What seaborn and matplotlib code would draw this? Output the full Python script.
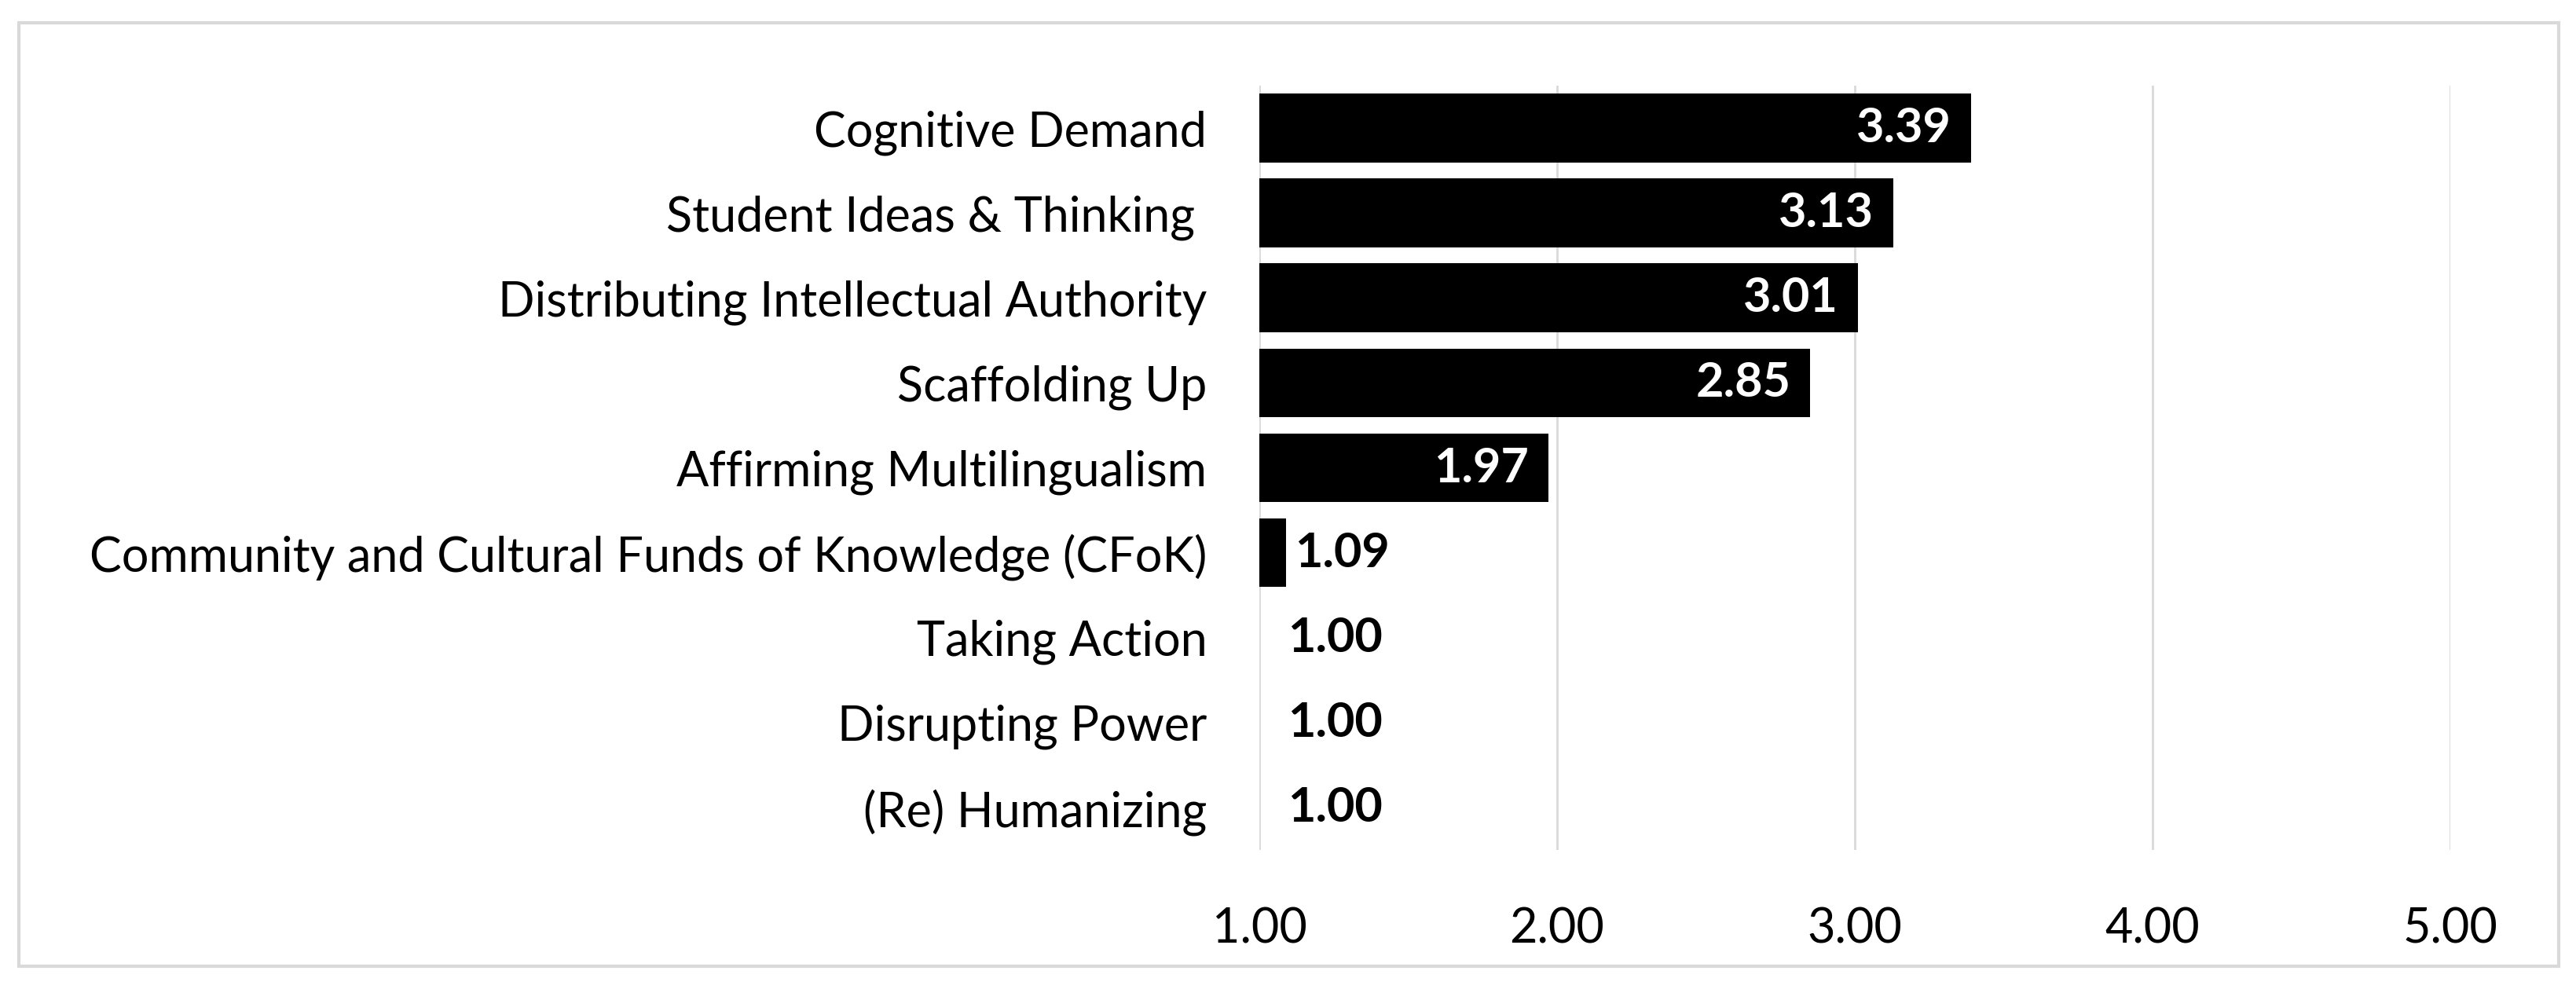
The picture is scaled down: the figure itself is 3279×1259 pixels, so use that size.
import matplotlib
matplotlib.use("Agg")
import matplotlib.pyplot as plt
import seaborn as sns
import pandas as pd
from matplotlib.patches import Rectangle

categories = [
    "Cognitive Demand",
    "Student Ideas & Thinking ",
    "Distributing Intellectual Authority",
    "Scaffolding Up",
    "Affirming Multilingualism",
    "Community and Cultural Funds of Knowledge (CFoK)",
    "Taking Action",
    "Disrupting Power",
    "(Re) Humanizing",
]
values = [3.39, 3.13, 3.01, 2.85, 1.97, 1.09, 1.00, 1.00, 1.00]
x_ticks = [1, 2, 3, 4, 5]
x_tick_labels = ["1.00", "2.00", "3.00", "4.00", "5.00"]

df = pd.DataFrame({"category": categories, "value": values})

sns.set_theme(style="white")
plt.rcParams["font.family"] = ["Lato", "DejaVu Sans"]

W, H, DPI = 3280, 1259, 200
fig = plt.figure(figsize=(W / DPI, H / DPI), dpi=DPI)
ax = fig.add_axes([1603 / W, 1 - 1082 / H, (3119 - 1603) / W, (1082 - 109) / H])

sns.barplot(data=df, y="category", x="value", orient="h", color="black",
            saturation=1, width=0.81, ax=ax, edgecolor="none")

ax.set_xlim(1, 5)
ax.set_ylim(len(categories) - 0.5, -0.5)
ax.set_xticks(x_ticks)
ax.set_xticklabels(x_tick_labels)
ax.set_xlabel("")
ax.set_ylabel("")
ax.tick_params(axis="both", length=0, labelsize=22, colors="black")
ax.tick_params(axis="y", pad=24)
ax.tick_params(axis="x", pad=26)
for s in ax.spines.values():
    s.set_visible(False)
ax.grid(axis="x", color="#d9d9d9", linewidth=1.0)
ax.set_axisbelow(True)

for i, v in enumerate(values):
    if v >= 1.5:
        ax.annotate(f"{v:.2f}", xy=(v, i), xytext=(-9, 0), textcoords="offset points",
                    ha="right", va="center", color="white", fontsize=22, fontweight="bold")
    else:
        ax.annotate(f"{v:.2f}", xy=(max(v, 1.065), i),
                    xytext=(4, 0), textcoords="offset points",
                    ha="left", va="center", color="black", fontsize=22, fontweight="bold")

fig.patches.append(Rectangle((24 / W, 1 - 1230 / H), (3257 - 24) / W, (1230 - 29) / H,
                             transform=fig.transFigure, fill=False,
                             edgecolor="#d9d9d9", linewidth=1.5))

fig.savefig("out.png", dpi=DPI, facecolor="white")
